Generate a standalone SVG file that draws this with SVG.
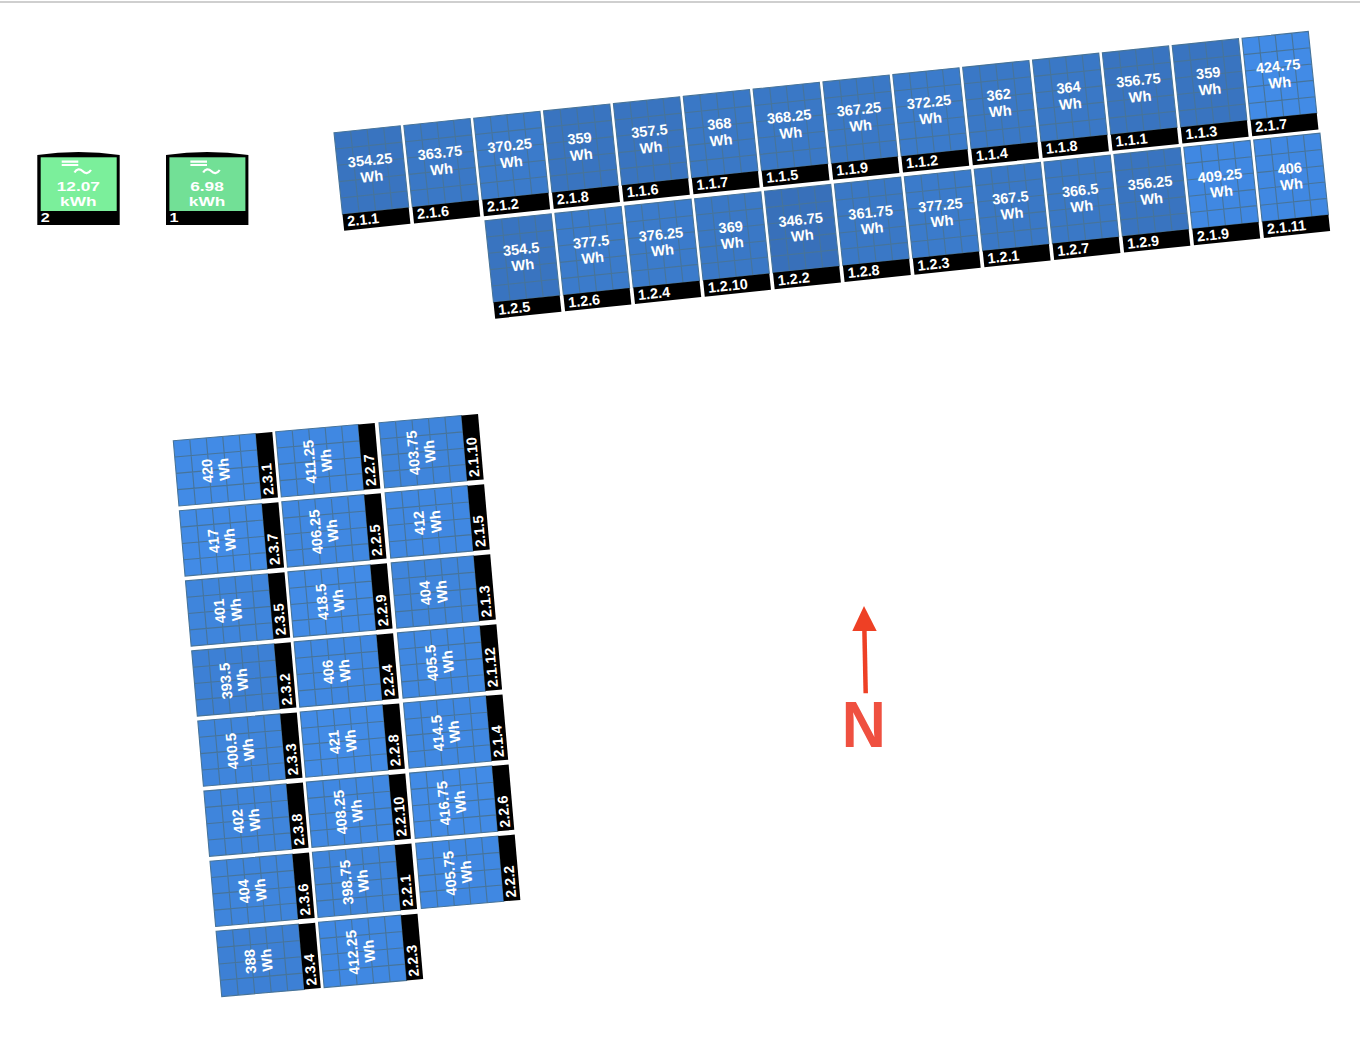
<svg xmlns="http://www.w3.org/2000/svg" width="1360" height="1044" viewBox="0 0 1360 1044">
<style>
text{font-family:"Liberation Sans",Arial,sans-serif;font-weight:700;fill:#fff}
.v{font-size:14.6px;text-anchor:middle}
.l{font-size:14.4px}
.a{fill:#3870ba}.b{fill:#3974c0}.c{fill:#3a78c6}.d{fill:#3b7bcb}.e{fill:#3d80d5}.f{fill:#3f85dc}.g{fill:#4088e2}.h{fill:#428be6}
.grid{fill:none;stroke:#47749a;stroke-width:1.1}
.strip{fill:#000}
.inv-t{font-size:13px;text-anchor:middle}
.inv-l{font-size:13px}
.sym{fill:none;stroke:#fff;stroke-width:2.2}
</style>
<defs>
<g id="ph"><rect width="66.6" height="82"/><path class="grid" d="M0 0H66.6V82H0ZM16.65 0V82M33.3 0V82M49.95 0V82M0 16.4H66.6M0 32.8H66.6M0 49.2H66.6M0 65.6H66.6"/><rect class="strip" y="82" width="66.6" height="16.5"/></g>
<g id="pv"><rect width="82.7" height="65.5"/><path class="grid" d="M0 0H82.7V65.5H0ZM16.54 0V65.5M33.08 0V65.5M49.62 0V65.5M66.16 0V65.5M0 16.375H82.7M0 32.75H82.7M0 49.125H82.7"/><rect class="strip" x="82.7" width="16.7" height="65.5"/></g>
<g id="inv"><path class="strip" d="M0 5.5Q41.2 -0.5 82.4 5.5V75.5H0Z"/><rect x="3.4" y="7.8" width="76" height="53.7"/><path class="sym" d="M24.4 12.2H41M24.4 15.5H41M37.2 23C39.2 19 42.7 19 45.2 21.5C47.7 24.3 51.2 24.5 53.7 20.5"/></g>
</defs>
<path d="M0 2H1360" stroke="#cfcfcf" stroke-width="2" fill="none"/>
<g id="inverters">
<g id="inverter-2" transform="translate(37.3 149.5)"><use href="#inv" style="fill:#7bef9b"/><text class="inv-t" transform="translate(41 41.5) scale(1.33 1)">12.07</text><text class="inv-t" transform="translate(41 56.5) scale(1.33 1)">kWh</text><text class="inv-l" transform="translate(3.4 72.4) scale(1.25 1)">2</text></g>
<g id="inverter-1" transform="translate(166 149.5)"><use href="#inv" style="fill:#72e096"/><text class="inv-t" transform="translate(41 41.5) scale(1.33 1)">6.98</text><text class="inv-t" transform="translate(41 56.5) scale(1.33 1)">kWh</text><text class="inv-l" transform="translate(3.4 72.4) scale(1.25 1)">1</text></g>
</g>
<g id="array-top">
<g id="p-2-1-1" transform="translate(334 132.7) rotate(-5.93)"><use href="#ph" class="b"/><text class="v" x="33" y="36">354.25</text><text class="v" x="33" y="52.5">Wh</text><text class="l" x="4" y="94.5">2.1.1</text></g>
<g id="p-2-1-6" transform="translate(403.85 125.44) rotate(-5.93)"><use href="#ph" class="c"/><text class="v" x="33" y="36">363.75</text><text class="v" x="33" y="52.5">Wh</text><text class="l" x="4" y="94.5">2.1.6</text></g>
<g id="p-2-1-2" transform="translate(473.7 118.18) rotate(-5.93)"><use href="#ph" class="d"/><text class="v" x="33" y="36">370.25</text><text class="v" x="33" y="52.5">Wh</text><text class="l" x="4" y="94.5">2.1.2</text></g>
<g id="p-2-1-8" transform="translate(543.55 110.92) rotate(-5.93)"><use href="#ph" class="b"/><text class="v" x="33" y="36">359</text><text class="v" x="33" y="52.5">Wh</text><text class="l" x="4" y="94.5">2.1.8</text></g>
<g id="p-1-1-6" transform="translate(613.4 103.66) rotate(-5.93)"><use href="#ph" class="b"/><text class="v" x="33" y="36">357.5</text><text class="v" x="33" y="52.5">Wh</text><text class="l" x="4" y="94.5">1.1.6</text></g>
<g id="p-1-1-7" transform="translate(683.25 96.4) rotate(-5.93)"><use href="#ph" class="c"/><text class="v" x="33" y="36">368</text><text class="v" x="33" y="52.5">Wh</text><text class="l" x="4" y="94.5">1.1.7</text></g>
<g id="p-1-1-5" transform="translate(753.1 89.14) rotate(-5.93)"><use href="#ph" class="c"/><text class="v" x="33" y="36">368.25</text><text class="v" x="33" y="52.5">Wh</text><text class="l" x="4" y="94.5">1.1.5</text></g>
<g id="p-1-1-9" transform="translate(822.95 81.88) rotate(-5.93)"><use href="#ph" class="c"/><text class="v" x="33" y="36">367.25</text><text class="v" x="33" y="52.5">Wh</text><text class="l" x="4" y="94.5">1.1.9</text></g>
<g id="p-1-1-2" transform="translate(892.8 74.62) rotate(-5.93)"><use href="#ph" class="d"/><text class="v" x="33" y="36">372.25</text><text class="v" x="33" y="52.5">Wh</text><text class="l" x="4" y="94.5">1.1.2</text></g>
<g id="p-1-1-4" transform="translate(962.65 67.36) rotate(-5.93)"><use href="#ph" class="c"/><text class="v" x="33" y="36">362</text><text class="v" x="33" y="52.5">Wh</text><text class="l" x="4" y="94.5">1.1.4</text></g>
<g id="p-1-1-8" transform="translate(1032.5 60.1) rotate(-5.93)"><use href="#ph" class="c"/><text class="v" x="33" y="36">364</text><text class="v" x="33" y="52.5">Wh</text><text class="l" x="4" y="94.5">1.1.8</text></g>
<g id="p-1-1-1" transform="translate(1102.35 52.84) rotate(-5.93)"><use href="#ph" class="b"/><text class="v" x="33" y="36">356.75</text><text class="v" x="33" y="52.5">Wh</text><text class="l" x="4" y="94.5">1.1.1</text></g>
<g id="p-1-1-3" transform="translate(1172.2 45.58) rotate(-5.93)"><use href="#ph" class="b"/><text class="v" x="33" y="36">359</text><text class="v" x="33" y="52.5">Wh</text><text class="l" x="4" y="94.5">1.1.3</text></g>
<g id="p-2-1-7" transform="translate(1242.05 38.32) rotate(-5.93)"><use href="#ph" class="h"/><text class="v" x="33" y="36.5">424.75</text><text class="v" x="33" y="53">Wh</text><text class="l" x="4" y="94.5">2.1.7</text></g>
<g id="p-1-2-5" transform="translate(485 220.7) rotate(-5.93)"><use href="#ph" class="b"/><text class="v" x="33" y="37">354.5</text><text class="v" x="33" y="53">Wh</text><text class="l" x="4" y="95">1.2.5</text></g>
<g id="p-1-2-6" transform="translate(554.9 213.4) rotate(-5.93)"><use href="#ph" class="d"/><text class="v" x="33" y="37">377.5</text><text class="v" x="33" y="53">Wh</text><text class="l" x="4" y="95">1.2.6</text></g>
<g id="p-1-2-4" transform="translate(624.8 206) rotate(-5.93)"><use href="#ph" class="d"/><text class="v" x="33" y="37">376.25</text><text class="v" x="33" y="53">Wh</text><text class="l" x="4" y="95">1.2.4</text></g>
<g id="p-1-2-10" transform="translate(694.6 198.7) rotate(-5.93)"><use href="#ph" class="c"/><text class="v" x="33" y="37">369</text><text class="v" x="33" y="53">Wh</text><text class="l" x="4" y="95">1.2.10</text></g>
<g id="p-1-2-2" transform="translate(764.5 191.3) rotate(-5.93)"><use href="#ph" class="a"/><text class="v" x="33" y="37">346.75</text><text class="v" x="33" y="53">Wh</text><text class="l" x="4" y="95">1.2.2</text></g>
<g id="p-1-2-8" transform="translate(834.4 184) rotate(-5.93)"><use href="#ph" class="c"/><text class="v" x="33" y="37">361.75</text><text class="v" x="33" y="53">Wh</text><text class="l" x="4" y="95">1.2.8</text></g>
<g id="p-1-2-3" transform="translate(904.3 176.7) rotate(-5.93)"><use href="#ph" class="d"/><text class="v" x="33" y="37">377.25</text><text class="v" x="33" y="53">Wh</text><text class="l" x="4" y="95">1.2.3</text></g>
<g id="p-1-2-1" transform="translate(974.2 169.3) rotate(-5.93)"><use href="#ph" class="c"/><text class="v" x="33" y="37">367.5</text><text class="v" x="33" y="53">Wh</text><text class="l" x="4" y="95">1.2.1</text></g>
<g id="p-1-2-7" transform="translate(1044 162) rotate(-5.93)"><use href="#ph" class="c"/><text class="v" x="33" y="37">366.5</text><text class="v" x="33" y="53">Wh</text><text class="l" x="4" y="95">1.2.7</text></g>
<g id="p-1-2-9" transform="translate(1113.9 154.6) rotate(-5.93)"><use href="#ph" class="b"/><text class="v" x="33" y="37">356.25</text><text class="v" x="33" y="53">Wh</text><text class="l" x="4" y="95">1.2.9</text></g>
<g id="p-2-1-9" transform="translate(1183.8 147.3) rotate(-5.93)"><use href="#ph" class="g"/><text class="v" x="33" y="37">409.25</text><text class="v" x="33" y="53">Wh</text><text class="l" x="4" y="95">2.1.9</text></g>
<g id="p-2-1-11" transform="translate(1253.7 140) rotate(-5.93)"><use href="#ph" class="g"/><text class="v" x="33" y="37">406</text><text class="v" x="33" y="53">Wh</text><text class="l" x="4" y="95">2.1.11</text></g>
</g>
<g id="array-bottom">
<g id="p-2-3-1" transform="translate(173.3 440.7) rotate(-4.95)"><use href="#pv" class="h"/><text class="v" transform="translate(36.5 33) rotate(-90)">420</text><text class="v" transform="translate(53 33) rotate(-90)">Wh</text><text class="l" transform="translate(95.5 62.5) rotate(-90)">2.3.1</text></g>
<g id="p-2-3-7" transform="translate(179.4 510.8) rotate(-4.95)"><use href="#pv" class="h"/><text class="v" transform="translate(36.5 33) rotate(-90)">417</text><text class="v" transform="translate(53 33) rotate(-90)">Wh</text><text class="l" transform="translate(95.5 62.5) rotate(-90)">2.3.7</text></g>
<g id="p-2-3-5" transform="translate(185.5 580.9) rotate(-4.95)"><use href="#pv" class="f"/><text class="v" transform="translate(36.5 33) rotate(-90)">401</text><text class="v" transform="translate(53 33) rotate(-90)">Wh</text><text class="l" transform="translate(95.5 62.5) rotate(-90)">2.3.5</text></g>
<g id="p-2-3-2" transform="translate(191.7 650.9) rotate(-4.95)"><use href="#pv" class="e"/><text class="v" transform="translate(36.5 33) rotate(-90)">393.5</text><text class="v" transform="translate(53 33) rotate(-90)">Wh</text><text class="l" transform="translate(95.5 62.5) rotate(-90)">2.3.2</text></g>
<g id="p-2-3-3" transform="translate(197.8 721) rotate(-4.95)"><use href="#pv" class="f"/><text class="v" transform="translate(36.5 33) rotate(-90)">400.5</text><text class="v" transform="translate(53 33) rotate(-90)">Wh</text><text class="l" transform="translate(95.5 62.5) rotate(-90)">2.3.3</text></g>
<g id="p-2-3-8" transform="translate(203.9 791.1) rotate(-4.95)"><use href="#pv" class="f"/><text class="v" transform="translate(36.5 33) rotate(-90)">402</text><text class="v" transform="translate(53 33) rotate(-90)">Wh</text><text class="l" transform="translate(95.5 62.5) rotate(-90)">2.3.8</text></g>
<g id="p-2-3-6" transform="translate(210 861.2) rotate(-4.95)"><use href="#pv" class="f"/><text class="v" transform="translate(36.5 33) rotate(-90)">404</text><text class="v" transform="translate(53 33) rotate(-90)">Wh</text><text class="l" transform="translate(95.5 62.5) rotate(-90)">2.3.6</text></g>
<g id="p-2-3-4" transform="translate(216.1 931.3) rotate(-4.95)"><use href="#pv" class="e"/><text class="v" transform="translate(36.5 33) rotate(-90)">388</text><text class="v" transform="translate(53 33) rotate(-90)">Wh</text><text class="l" transform="translate(95.5 62.5) rotate(-90)">2.3.4</text></g>
<g id="p-2-2-7" transform="translate(275.7 431.7) rotate(-4.95)"><use href="#pv" class="g"/><text class="v" transform="translate(36.5 33) rotate(-90)">411.25</text><text class="v" transform="translate(53 33) rotate(-90)">Wh</text><text class="l" transform="translate(95.5 62.5) rotate(-90)">2.2.7</text></g>
<g id="p-2-2-5" transform="translate(281.8 501.8) rotate(-4.95)"><use href="#pv" class="g"/><text class="v" transform="translate(36.5 33) rotate(-90)">406.25</text><text class="v" transform="translate(53 33) rotate(-90)">Wh</text><text class="l" transform="translate(95.5 62.5) rotate(-90)">2.2.5</text></g>
<g id="p-2-2-9" transform="translate(287.9 571.9) rotate(-4.95)"><use href="#pv" class="h"/><text class="v" transform="translate(36.5 33) rotate(-90)">418.5</text><text class="v" transform="translate(53 33) rotate(-90)">Wh</text><text class="l" transform="translate(95.5 62.5) rotate(-90)">2.2.9</text></g>
<g id="p-2-2-4" transform="translate(294.1 641.9) rotate(-4.95)"><use href="#pv" class="g"/><text class="v" transform="translate(36.5 33) rotate(-90)">406</text><text class="v" transform="translate(53 33) rotate(-90)">Wh</text><text class="l" transform="translate(95.5 62.5) rotate(-90)">2.2.4</text></g>
<g id="p-2-2-8" transform="translate(300.2 712) rotate(-4.95)"><use href="#pv" class="h"/><text class="v" transform="translate(36.5 33) rotate(-90)">421</text><text class="v" transform="translate(53 33) rotate(-90)">Wh</text><text class="l" transform="translate(95.5 62.5) rotate(-90)">2.2.8</text></g>
<g id="p-2-2-10" transform="translate(306.3 782.1) rotate(-4.95)"><use href="#pv" class="g"/><text class="v" transform="translate(36.5 33) rotate(-90)">408.25</text><text class="v" transform="translate(53 33) rotate(-90)">Wh</text><text class="l" transform="translate(95.5 62.5) rotate(-90)">2.2.10</text></g>
<g id="p-2-2-1" transform="translate(312.4 852.2) rotate(-4.95)"><use href="#pv" class="f"/><text class="v" transform="translate(36.5 33) rotate(-90)">398.75</text><text class="v" transform="translate(53 33) rotate(-90)">Wh</text><text class="l" transform="translate(95.5 62.5) rotate(-90)">2.2.1</text></g>
<g id="p-2-2-3" transform="translate(318.5 922.3) rotate(-4.95)"><use href="#pv" class="g"/><text class="v" transform="translate(36.5 33) rotate(-90)">412.25</text><text class="v" transform="translate(53 33) rotate(-90)">Wh</text><text class="l" transform="translate(95.5 62.5) rotate(-90)">2.2.3</text></g>
<g id="p-2-1-10" transform="translate(379 422.7) rotate(-4.95)"><use href="#pv" class="f"/><text class="v" transform="translate(36.5 33) rotate(-90)">403.75</text><text class="v" transform="translate(53 33) rotate(-90)">Wh</text><text class="l" transform="translate(95.5 62.5) rotate(-90)">2.1.10</text></g>
<g id="p-2-1-5" transform="translate(385.1 492.8) rotate(-4.95)"><use href="#pv" class="g"/><text class="v" transform="translate(36.5 33) rotate(-90)">412</text><text class="v" transform="translate(53 33) rotate(-90)">Wh</text><text class="l" transform="translate(95.5 62.5) rotate(-90)">2.1.5</text></g>
<g id="p-2-1-3" transform="translate(391.2 562.9) rotate(-4.95)"><use href="#pv" class="f"/><text class="v" transform="translate(36.5 33) rotate(-90)">404</text><text class="v" transform="translate(53 33) rotate(-90)">Wh</text><text class="l" transform="translate(95.5 62.5) rotate(-90)">2.1.3</text></g>
<g id="p-2-1-12" transform="translate(397.4 632.9) rotate(-4.95)"><use href="#pv" class="g"/><text class="v" transform="translate(36.5 33) rotate(-90)">405.5</text><text class="v" transform="translate(53 33) rotate(-90)">Wh</text><text class="l" transform="translate(95.5 62.5) rotate(-90)">2.1.12</text></g>
<g id="p-2-1-4" transform="translate(403.5 703) rotate(-4.95)"><use href="#pv" class="g"/><text class="v" transform="translate(36.5 33) rotate(-90)">414.5</text><text class="v" transform="translate(53 33) rotate(-90)">Wh</text><text class="l" transform="translate(95.5 62.5) rotate(-90)">2.1.4</text></g>
<g id="p-2-2-6" transform="translate(409.6 773.1) rotate(-4.95)"><use href="#pv" class="h"/><text class="v" transform="translate(36.5 33) rotate(-90)">416.75</text><text class="v" transform="translate(53 33) rotate(-90)">Wh</text><text class="l" transform="translate(95.5 62.5) rotate(-90)">2.2.6</text></g>
<g id="p-2-2-2" transform="translate(415.7 843.2) rotate(-4.95)"><use href="#pv" class="g"/><text class="v" transform="translate(36.5 33) rotate(-90)">405.75</text><text class="v" transform="translate(53 33) rotate(-90)">Wh</text><text class="l" transform="translate(95.5 62.5) rotate(-90)">2.2.2</text></g>
</g>
<g id="connectors">
<path d="M865.7 693.3L864.4 630" fill="none" stroke="#ee4025" stroke-width="4.5"/>
<path d="M864 606L876.7 631H852.3Z" fill="#ee4025"/>
</g>
<g id="north"><text transform="translate(863.7 746.7) scale(1 1.05)" style="font-size:61px;text-anchor:middle;fill:#ef5040">N</text></g>
</svg>
